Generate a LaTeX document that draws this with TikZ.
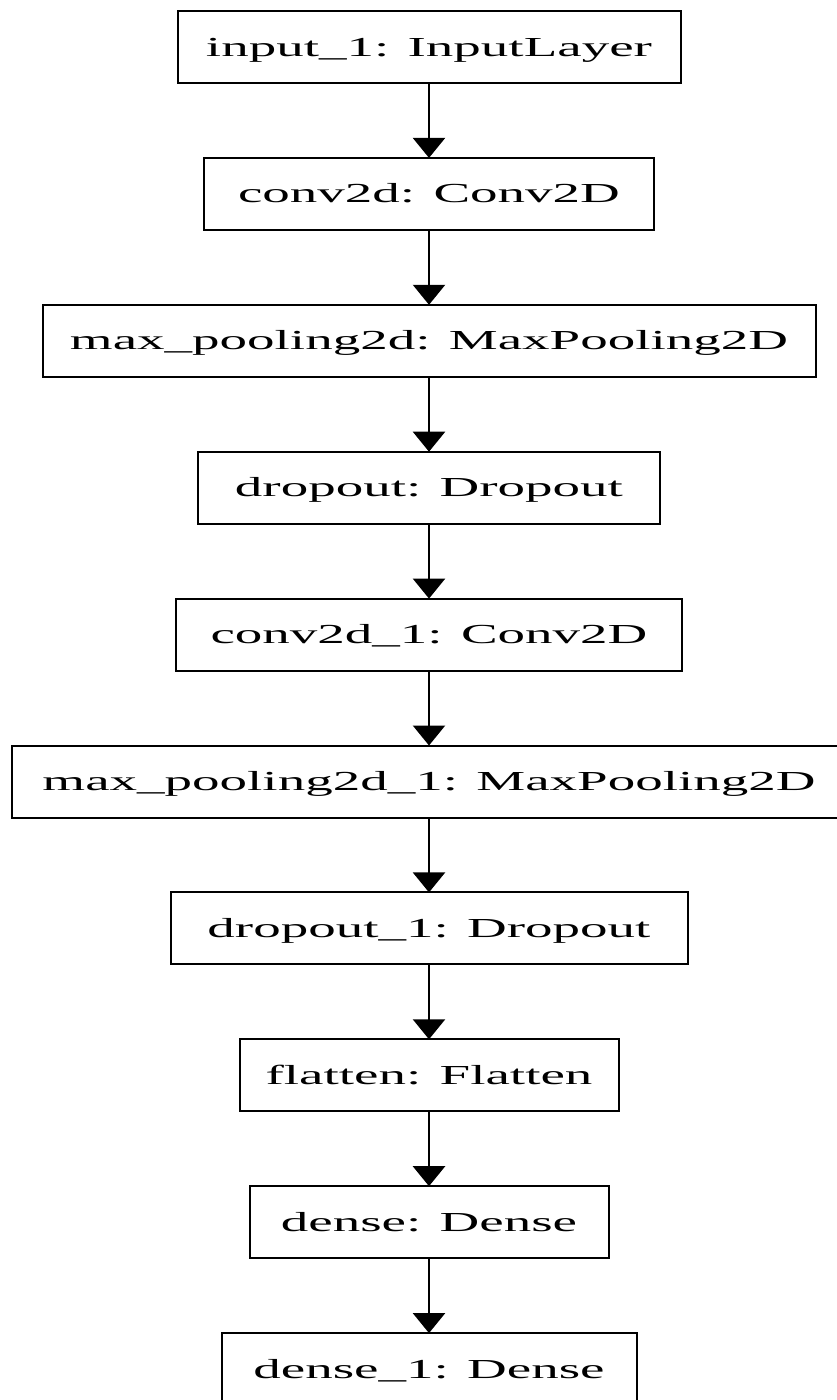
\documentclass[tikz,border=0pt]{standalone}
\usepackage{fontspec}
\setmainfont{Liberation Serif}
\usetikzlibrary{arrows.meta,positioning}

% stretched label, as in the rendered graph
\newcommand{\widelbl}[1]{\scalebox{2}[1]{#1}}

\begin{document}
\begin{tikzpicture}[x=1pt, y=1pt, node distance=74.9pt,
    layer/.style={draw, line width=2pt, minimum height=72pt, inner sep=0pt, outer sep=0pt,
        text height=18pt, text depth=0pt, font=\fontsize{27.5}{30}\selectfont},
    flow/.style={-{Triangle[length=20pt,width=32pt]}, line width=2.4pt}]
    \useasboundingbox (0,0) rectangle (837,-1400);

    % Layers
    \node[layer, minimum width=503pt] (input) at (429,-47) {\widelbl{input\_1: InputLayer}};
    \node[layer, minimum width=450pt, below=of input] (conv) {\widelbl{conv2d: Conv2D}};
    \node[layer, minimum width=773pt, below=of conv] (pool) {\widelbl{max\_pooling2d: MaxPooling2D}};
    \node[layer, minimum width=462pt, below=of pool] (drop) {\widelbl{dropout: Dropout}};
    \node[layer, minimum width=506pt, below=of drop] (convb) {\widelbl{conv2d\_1: Conv2D}};
    \node[layer, minimum width=834pt, below=of convb] (poolb) {\widelbl{max\_pooling2d\_1: MaxPooling2D}};
    \node[layer, minimum width=517pt, below=of poolb] (dropb) {\widelbl{dropout\_1: Dropout}};
    \node[layer, minimum width=379pt, below=of dropb] (flat) {\widelbl{flatten: Flatten}};
    \node[layer, minimum width=359pt, below=of flat] (dense) {\widelbl{dense: Dense}};
    \node[layer, minimum width=415pt, below=of dense] (denseb) {\widelbl{dense\_1: Dense}};

    % Connections
    \foreach \from/\to in {input/conv, conv/pool, pool/drop, drop/convb, convb/poolb,
        poolb/dropb, dropb/flat, flat/dense, dense/denseb}
        \draw[flow] (\from) -- (\to);
\end{tikzpicture}
\end{document}
